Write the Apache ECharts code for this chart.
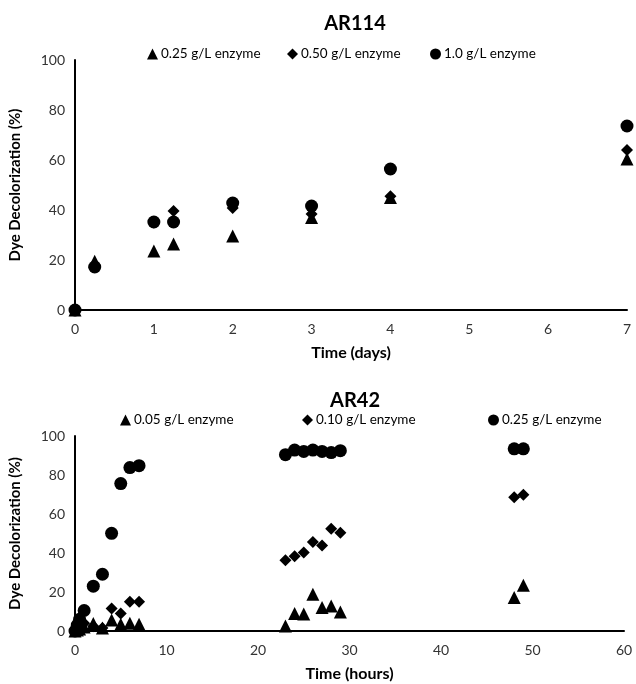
<!DOCTYPE html>
<html>
<head>
<meta charset="utf-8">
<script src="https://cdn.jsdelivr.net/npm/echarts@6/dist/echarts.min.js"></script>
<style>html,body{margin:0;padding:0;background:#fff}#c{width:636px;height:684px}</style>
</head>
<body>
<div id="c"></div>
<script>
// AR114 (days)
const ar114Names = ['0.25 g/L enzyme', '0.50 g/L enzyme', '1.0 g/L enzyme'];
const ar114Days = [0, 0.25, 1, 1.25, 2, 3, 4, 7];
const ar114_025 = [0, 19.5, 23.6, 26.4, 29.6, 37, 45, 60.4];
const ar114_050 = [0, 18, 35, 39.6, 40.8, 38.4, 45.5, 64];
const ar114_100 = [0, 17.2, 35.2, 35.2, 42.8, 41.6, 56.4, 73.6];

// AR42 (hours)
const ar42Names = ['0.05 g/L enzyme', '0.10 g/L enzyme', '0.25 g/L enzyme '];
const ar42Hours = [0, 0.25, 0.5, 1, 2, 3, 4, 5, 6, 7, 23, 24, 25, 26, 27, 28, 29, 48, 49];
const ar42_005 = [0, 0.5, 1, 2, 3.9, 1.5, 5.6, 3.5, 4, 3.5, 2.6, 9, 8.7, 18.9, 12.1, 12.8, 9.7, 17.2, 23.5];
const ar42_010 = [0, 1.5, 3, 4, 2.5, 1.5, 11.6, 9, 15, 15, 36.3, 38.3, 40.2, 45.6, 43.9, 52.5, 50.4, 68.6, 69.9];
const ar42_025 = [0, 3, 6, 10.5, 23, 29.1, 50.1, 75.6, 83.8, 84.8, 90.4, 92.8, 92.1, 92.8, 92.1, 91.5, 92.5, 93.4, 93.4];

const yTicks = [0, 20, 40, 60, 80, 100];
const symbols = ['triangle', 'diamond', 'circle'];
const symSizes = [13, 12, 13];

const FONT = 'Lato, "Open Sans", sans-serif';
const zip = (xs, ys) => xs.map((x, i) => [x, ys[i]]);

const axisLine = {show: true, lineStyle: {color: '#000', width: 2}};
function xAx(gi, max, interval, name) {
  return {
    type: 'value', gridIndex: gi, min: 0, max: max, interval: interval,
    axisLine: axisLine, axisTick: {show: false}, splitLine: {show: false},
    axisLabel: {color: '#333', fontSize: 14, fontFamily: FONT, margin: 12},
    name: name, nameLocation: 'middle', nameGap: 35,
    nameTextStyle: {color: '#000', fontSize: 16, fontWeight: 'bold', fontFamily: FONT}
  };
}
function yAx(gi) {
  return {
    type: 'value', gridIndex: gi, min: yTicks[0], max: yTicks[yTicks.length - 1], interval: 20,
    axisLine: axisLine, axisTick: {show: false}, splitLine: {show: false},
    axisLabel: {color: '#333', fontSize: 14, fontFamily: FONT, margin: 10},
    name: 'Dye Decolorization (%)', nameLocation: 'middle', nameGap: 52,
    nameTextStyle: {color: '#000', fontSize: 15, fontWeight: 'bold', fontFamily: FONT}
  };
}
function legendItem(name, icon, left, top) {
  return {
    data: [{name: name, icon: icon}], left: left, top: top, itemWidth: 11, itemHeight: 11, itemGap: 0,
    textStyle: {color: '#000', fontSize: 13.5, fontFamily: FONT, padding: [0, 0, 0, -2]},
    selectedMode: false
  };
}

const topData = [ar114_025, ar114_050, ar114_100];
const botData = [ar42_005, ar42_010, ar42_025];
const series = [];
for (let i = 0; i < 3; i++) {
  series.push({
    name: ar114Names[i], type: 'scatter', xAxisIndex: 0, yAxisIndex: 0,
    symbol: symbols[i], symbolSize: symSizes[i], itemStyle: {color: '#000', opacity: 1},
    data: zip(ar114Days, topData[i]), z: 2 + (2 - i)
  });
}
for (let i = 0; i < 3; i++) {
  series.push({
    name: ar42Names[i], type: 'scatter', xAxisIndex: 1, yAxisIndex: 1,
    symbol: symbols[i], symbolSize: symSizes[i], itemStyle: {color: '#000', opacity: 1},
    data: zip(ar42Hours, botData[i]), z: 2 + (2 - i)
  });
}

const chart = echarts.init(document.getElementById('c'), null, {renderer: 'canvas'});
chart.setOption({
  backgroundColor: '#fff',
  animation: false,
  title: [
    {text: 'AR114', left: 350, top: 9, textAlign: 'center',
     textStyle: {fontSize: 20, fontWeight: 'bold', color: '#000', fontFamily: FONT}},
    {text: 'AR42', left: 350, top: 386, textAlign: 'center',
     textStyle: {fontSize: 20, fontWeight: 'bold', color: '#000', fontFamily: FONT}}
  ],
  legend: [
    legendItem(ar114Names[0], 'triangle', 142, 42),
    legendItem(ar114Names[1], 'diamond', 282, 42),
    legendItem(ar114Names[2], 'circle', 425, 42),
    legendItem(ar42Names[0], 'triangle', 115, 408),
    legendItem(ar42Names[1], 'diamond', 297, 408),
    legendItem(ar42Names[2], 'circle', 483, 408)
  ],
  grid: [
    {left: 75, right: 9, top: 60, height: 250},
    {left: 75, right: 12, top: 436, height: 195}
  ],
  xAxis: [xAx(0, 7, 1, 'Time (days)'), xAx(1, 60, 10, 'Time (hours)')],
  yAxis: [yAx(0), yAx(1)],
  series: series
});
</script>
</body>
</html>
